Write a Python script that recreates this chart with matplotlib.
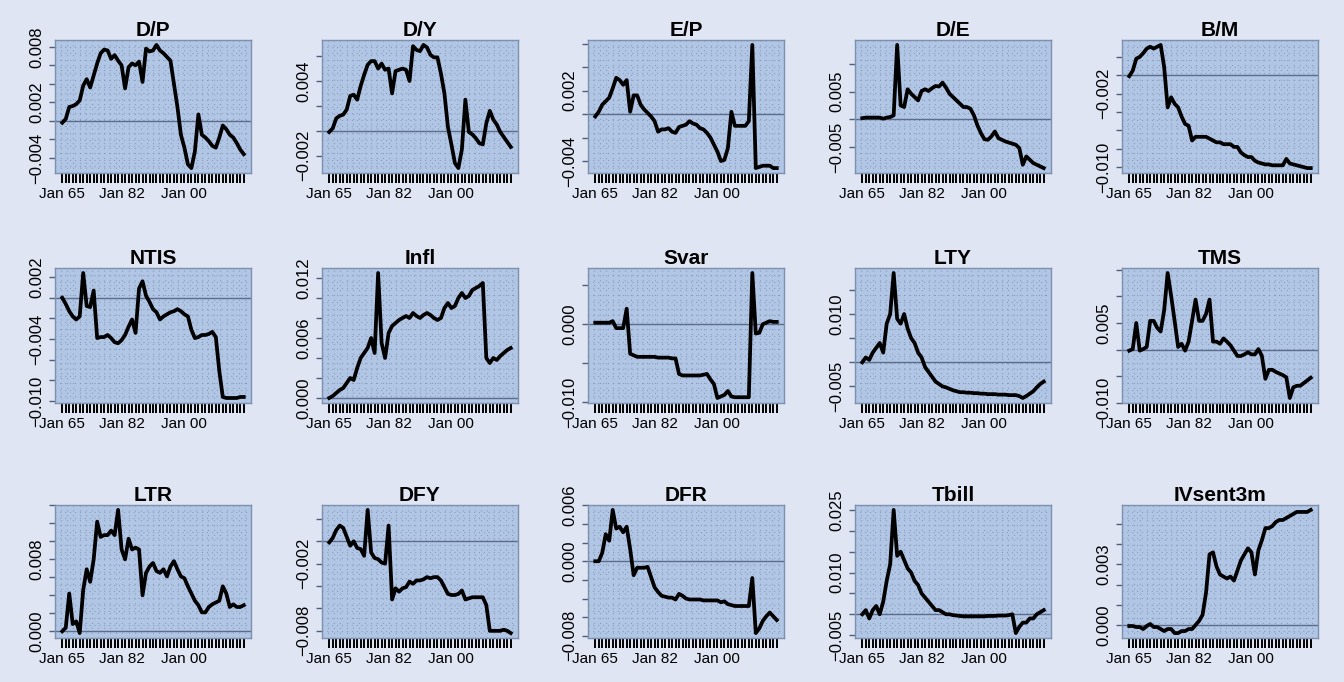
import numpy as np
import matplotlib.pyplot as plt

plt.rcParams['font.family'] = ['Liberation Sans', 'DejaVu Sans']

# yearly observations, Jan 1965 .. Jan 2017
years = np.arange(1965, 2018)

dp = [-0.0002, 0.0002, 0.0015, 0.0016, 0.0018, 0.0022, 0.0038, 0.0045, 0.0036, 0.0049,
      0.0062, 0.0073, 0.0077, 0.0076, 0.0067, 0.0071, 0.0065, 0.0060, 0.0035, 0.0058,
      0.0062, 0.0060, 0.0064, 0.0042, 0.0078, 0.0075, 0.0076, 0.0082, 0.0076, 0.0073,
      0.0069, 0.0065, 0.0040, 0.0015, -0.0015, -0.0029, -0.0047, -0.0051, -0.0033, 0.0007,
      -0.0015, -0.0018, -0.0022, -0.0027, -0.0029, -0.0018, -0.0005, -0.0009, -0.0015, -0.0018,
      -0.0024, -0.0031, -0.0036]

dy = [-0.0001, 0.0002, 0.0010, 0.0012, 0.0013, 0.0017, 0.0028, 0.0029, 0.0025, 0.0036,
      0.0045, 0.0053, 0.0056, 0.0056, 0.0050, 0.0054, 0.0049, 0.0050, 0.0030, 0.0048,
      0.0049, 0.0050, 0.0049, 0.0040, 0.0068, 0.0065, 0.0064, 0.0069, 0.0067, 0.0061,
      0.0059, 0.0059, 0.0046, 0.0030, 0.0003, -0.0011, -0.0026, -0.0030, -0.0015, 0.0025,
      -0.0001, -0.0003, -0.0006, -0.0010, -0.0011, 0.0006, 0.0016, 0.0009, 0.0005, -0.0001,
      -0.0005, -0.0009, -0.0013]

ep = [-0.0002, 0.0002, 0.0008, 0.0011, 0.0014, 0.0022, 0.0031, 0.0029, 0.0025, 0.0029,
      0.0002, 0.0016, 0.0016, 0.0008, 0.0004, 0.0001, -0.0002, -0.0006, -0.0015, -0.0013,
      -0.0013, -0.0012, -0.0015, -0.0016, -0.0011, -0.0010, -0.0009, -0.0006, -0.0008, -0.0009,
      -0.0012, -0.0013, -0.0016, -0.0020, -0.0026, -0.0032, -0.0040, -0.0039, -0.0029, 0.0002,
      -0.0010, -0.0010, -0.0010, -0.0010, -0.0006, 0.0059, -0.0046, -0.0045, -0.0044, -0.0044,
      -0.0044, -0.0046, -0.0046]

de = [0.0002, 0.0003, 0.0003, 0.0003, 0.0003, 0.0003, 0.0001, 0.0003, 0.0004, 0.0007,
      0.0134, 0.0025, 0.0022, 0.0054, 0.0046, 0.0040, 0.0034, 0.0051, 0.0054, 0.0051,
      0.0056, 0.0060, 0.0059, 0.0066, 0.0057, 0.0046, 0.0040, 0.0034, 0.0028, 0.0022,
      0.0022, 0.0019, 0.0007, -0.0011, -0.0025, -0.0036, -0.0037, -0.0031, -0.0022, -0.0034,
      -0.0037, -0.0040, -0.0042, -0.0044, -0.0046, -0.0052, -0.0082, -0.0067, -0.0073, -0.0079,
      -0.0082, -0.0085, -0.0088]

bm = [-0.0001, 0.0005, 0.0018, 0.0020, 0.0024, 0.0029, 0.0031, 0.0029, 0.0031, 0.0033,
      0.0009, -0.0035, -0.0024, -0.0031, -0.0035, -0.0045, -0.0053, -0.0055, -0.0071, -0.0067,
      -0.0067, -0.0067, -0.0067, -0.0069, -0.0071, -0.0073, -0.0073, -0.0075, -0.0075, -0.0075,
      -0.0078, -0.0078, -0.0084, -0.0087, -0.0089, -0.0089, -0.0093, -0.0095, -0.0096, -0.0097,
      -0.0097, -0.0098, -0.0098, -0.0098, -0.0098, -0.0091, -0.0096, -0.0097, -0.0098, -0.0099,
      -0.0100, -0.0101, -0.0101]

ntis = [0.0000, -0.0006, -0.0013, -0.0018, -0.0021, -0.0018, 0.0024, -0.0008, -0.0009, 0.0007,
        -0.0039, -0.0038, -0.0038, -0.0036, -0.0039, -0.0043, -0.0044, -0.0041, -0.0036, -0.0028,
        -0.0021, -0.0034, 0.0009, 0.0016, 0.0002, -0.0004, -0.0011, -0.0014, -0.0021, -0.0018,
        -0.0016, -0.0014, -0.0013, -0.0011, -0.0013, -0.0016, -0.0018, -0.0031, -0.0039, -0.0038,
        -0.0036, -0.0036, -0.0035, -0.0033, -0.0038, -0.0071, -0.0096, -0.0097, -0.0097, -0.0097,
        -0.0097, -0.0096, -0.0096]

infl = [0.0000, 0.0002, 0.0005, 0.0008, 0.0010, 0.0015, 0.0020, 0.0018, 0.0030, 0.0040,
        0.0045, 0.0050, 0.0060, 0.0045, 0.0125, 0.0055, 0.0040, 0.0065, 0.0072, 0.0075,
        0.0078, 0.0080, 0.0082, 0.0080, 0.0085, 0.0082, 0.0080, 0.0083, 0.0085, 0.0083,
        0.0080, 0.0078, 0.0080, 0.0090, 0.0095, 0.0090, 0.0092, 0.0100, 0.0105, 0.0100,
        0.0102, 0.0108, 0.0110, 0.0112, 0.0115, 0.0040, 0.0035, 0.0040, 0.0038, 0.0042,
        0.0045, 0.0048, 0.0050]

svar = [0.0002, 0.0002, 0.0002, 0.0002, 0.0002, 0.0004, -0.0005, -0.0005, -0.0005, 0.0020,
        -0.0038, -0.0040, -0.0042, -0.0042, -0.0042, -0.0042, -0.0042, -0.0042, -0.0043, -0.0043,
        -0.0043, -0.0043, -0.0044, -0.0044, -0.0064, -0.0066, -0.0066, -0.0066, -0.0066, -0.0066,
        -0.0066, -0.0065, -0.0064, -0.0071, -0.0077, -0.0095, -0.0093, -0.0091, -0.0086, -0.0093,
        -0.0094, -0.0094, -0.0094, -0.0094, -0.0094, 0.0066, -0.0012, -0.0011, 0.0000, 0.0002,
        0.0004, 0.0003, 0.0003]

lty = [0.0000, 0.0010, 0.0005, 0.0020, 0.0030, 0.0040, 0.0020, 0.0080, 0.0100, 0.0185,
       0.0090, 0.0080, 0.0100, 0.0070, 0.0050, 0.0040, 0.0020, 0.0010, -0.0010, -0.0020,
       -0.0030, -0.0040, -0.0045, -0.0050, -0.0052, -0.0055, -0.0058, -0.0060, -0.0062, -0.0062,
       -0.0063, -0.0063, -0.0064, -0.0064, -0.0065, -0.0065, -0.0066, -0.0066, -0.0066, -0.0067,
       -0.0067, -0.0067, -0.0068, -0.0068, -0.0068, -0.0070, -0.0074, -0.0070, -0.0065, -0.0060,
       -0.0052, -0.0045, -0.0040]

tms = [-0.0002, 0.0001, 0.0050, -0.0002, 0.0001, 0.0005, 0.0054, 0.0054, 0.0041, 0.0034,
       0.0074, 0.0144, 0.0101, 0.0054, 0.0005, 0.0011, -0.0002, 0.0015, 0.0054, 0.0094,
       0.0054, 0.0054, 0.0067, 0.0094, 0.0015, 0.0015, 0.0011, 0.0021, 0.0015, 0.0008,
       -0.0002, -0.0012, -0.0012, -0.0009, -0.0005, -0.0009, -0.0009, 0.0001, -0.0012, -0.0055,
       -0.0038, -0.0038, -0.0042, -0.0045, -0.0048, -0.0052, -0.0091, -0.0071, -0.0068, -0.0068,
       -0.0063, -0.0058, -0.0053]

ltr = [0.0000, 0.0004, 0.0042, 0.0008, 0.0011, -0.0002, 0.0046, 0.0069, 0.0055, 0.0080,
       0.0122, 0.0105, 0.0107, 0.0107, 0.0112, 0.0107, 0.0135, 0.0091, 0.0080, 0.0103,
       0.0091, 0.0093, 0.0091, 0.0040, 0.0065, 0.0072, 0.0076, 0.0067, 0.0065, 0.0069,
       0.0061, 0.0072, 0.0078, 0.0069, 0.0061, 0.0059, 0.0050, 0.0042, 0.0034, 0.0029,
       0.0021, 0.0021, 0.0027, 0.0030, 0.0032, 0.0034, 0.0050, 0.0042, 0.0027, 0.0030,
       0.0027, 0.0027, 0.0029]

dfy = [-0.0001, 0.0003, 0.0010, 0.0014, 0.0012, 0.0004, -0.0004, 0.0000, -0.0006, -0.0007,
       -0.0013, 0.0028, -0.0010, -0.0015, -0.0016, -0.0019, -0.0020, 0.0014, -0.0052, -0.0042,
       -0.0045, -0.0042, -0.0041, -0.0036, -0.0038, -0.0035, -0.0035, -0.0034, -0.0032, -0.0033,
       -0.0032, -0.0032, -0.0035, -0.0041, -0.0047, -0.0048, -0.0048, -0.0047, -0.0044, -0.0052,
       -0.0051, -0.0050, -0.0050, -0.0050, -0.0050, -0.0057, -0.0080, -0.0080, -0.0080, -0.0080,
       -0.0079, -0.0080, -0.0082]

dfr = [0.0000, 0.0000, 0.0009, 0.0029, 0.0022, 0.0055, 0.0035, 0.0037, 0.0031, 0.0037,
       0.0013, -0.0015, -0.0007, -0.0007, -0.0007, -0.0006, -0.0017, -0.0028, -0.0033, -0.0037,
       -0.0038, -0.0039, -0.0039, -0.0041, -0.0035, -0.0037, -0.0040, -0.0041, -0.0041, -0.0041,
       -0.0041, -0.0042, -0.0042, -0.0042, -0.0042, -0.0042, -0.0044, -0.0043, -0.0046, -0.0047,
       -0.0048, -0.0048, -0.0048, -0.0048, -0.0048, -0.0018, -0.0077, -0.0072, -0.0064, -0.0059,
       -0.0055, -0.0059, -0.0063]

tbill = [0.0000, 0.0010, -0.0010, 0.0010, 0.0020, 0.0000, 0.0030, 0.0080, 0.0120, 0.0250,
         0.0140, 0.0150, 0.0130, 0.0110, 0.0100, 0.0080, 0.0070, 0.0050, 0.0040, 0.0030,
         0.0020, 0.0010, 0.0010, 0.0005, 0.0000, 0.0000, -0.0002, -0.0003, -0.0004, -0.0005,
         -0.0005, -0.0005, -0.0005, -0.0005, -0.0005, -0.0005, -0.0004, -0.0004, -0.0004, -0.0003,
         -0.0003, -0.0003, -0.0002, 0.0000, -0.0045, -0.0030, -0.0020, -0.0020, -0.0010, -0.0010,
         0.0000, 0.0005, 0.0010]

ivsent = [-0.00005, -0.00005, -0.0001, -0.0001, -0.0002, -0.00005, 0.00005, -0.0001, -0.0001, -0.0002,
          -0.0003, -0.0002, -0.0002, -0.0004, -0.0004, -0.0003, -0.0003, -0.0002, -0.0002, 0.0000,
          0.0002, 0.0005, 0.0016, 0.0035, 0.0036, 0.0029, 0.0025, 0.0024, 0.0023, 0.0024,
          0.0022, 0.0027, 0.0032, 0.0035, 0.0038, 0.0036, 0.0025, 0.0037, 0.0042, 0.0048,
          0.0048, 0.0049, 0.0051, 0.0052, 0.0052, 0.0053, 0.0054, 0.0055, 0.0056, 0.0056,
          0.0056, 0.0056, 0.0057]

# (title, series, (first tick, last tick, step), ticks that carry a label)
panels = [
    ('D/P', dp, (-0.004, 0.008, 0.002), [-0.004, 0.002, 0.008]),
    ('D/Y', dy, (-0.002, 0.006, 0.002), [-0.002, 0.004]),
    ('E/P', ep, (-0.004, 0.006, 0.002), [-0.004, 0.002]),
    ('D/E', de, (-0.005, 0.010, 0.005), [-0.005, 0.005]),
    ('B/M', bm, (-0.010, 0.002, 0.002), [-0.010, -0.002]),
    ('NTIS', ntis, (-0.010, 0.002, 0.002), [-0.010, -0.004, 0.002]),
    ('Infl', infl, (0.000, 0.012, 0.002), [0.000, 0.006, 0.012]),
    ('Svar', svar, (-0.010, 0.005, 0.005), [-0.010, 0.000]),
    ('LTY', lty, (-0.005, 0.015, 0.005), [-0.005, 0.010]),
    ('TMS', tms, (-0.010, 0.015, 0.005), [-0.010, 0.005]),
    ('LTR', ltr, (0.000, 0.014, 0.002), [0.000, 0.008]),
    ('DFY', dfy, (-0.008, 0.002, 0.002), [-0.008, -0.002]),
    ('DFR', dfr, (-0.008, 0.006, 0.002), [-0.008, 0.000, 0.006]),
    ('Tbill', tbill, (-0.005, 0.025, 0.005), [-0.005, 0.010, 0.025]),
    ('IVsent3m', ivsent, (0.000, 0.005, 0.001), [0.000, 0.003]),
]

W, H = 1344, 682
lefts = [55, 322, 588, 855, 1122]
tops = [40, 268, 505]
heights = [133, 135, 133]
width = 196

fig = plt.figure(figsize=(W / 100, H / 100), dpi=100)
fig.patch.set_facecolor('#dfe5f3')

face = '#b1c5e5'
frame = '#7d90ad'
dotcol = '#8293b3'


def fmt(v):
    return ('%.3f' % v).replace('-', '\u2212')


for i, (name, vals, (lo, hi, step), labelled) in enumerate(panels):
    r, c = divmod(i, 5)
    l, t, h = lefts[c], tops[r], heights[r]
    ax = fig.add_axes([l / W, 1 - (t + h) / H, width / W, h / H])
    ax.set_facecolor(face)
    for s in ax.spines.values():
        s.set_color(frame)
        s.set_linewidth(1.0)

    # dotted background lattice
    for gx in np.linspace(0, 1, 33)[1:-1]:
        ax.plot([gx, gx], [0, 1], transform=ax.transAxes, color=dotcol,
                lw=0.8, ls=(0, (0.8, 3.6)), zorder=0.5)
    for gy in np.linspace(0, 1, 21)[1:-1]:
        ax.plot([0, 1], [gy, gy], transform=ax.transAxes, color=dotcol,
                lw=0.8, ls=(0, (0.8, 3.6)), zorder=0.5)

    ax.axhline(0, color='#5b6d8c', lw=1.0, zorder=1.5)
    ax.plot(years, vals, color='black', lw=2.7, zorder=2)

    span = years[-1] - years[0]
    ax.set_xlim(years[0] - 0.04 * span, years[-1] + 0.04 * span)
    vmin, vmax = min(vals), max(vals)
    pad = 0.04 * (vmax - vmin)
    ax.set_ylim(vmin - pad, vmax + pad)

    ax.set_xticks([1965, 1982, 2000])
    ax.set_xticklabels(['Jan 65', 'Jan 82', 'Jan 00'])
    ax.set_xticks(years, minor=True)
    ax.tick_params(axis='x', which='both', length=7, width=1.4, color='black',
                   direction='out', labelsize=11, pad=3)

    ticks = np.round(np.arange(lo, hi + step / 2, step), 4)
    lab = [fmt(v) if any(abs(v - q) < 1e-9 for q in labelled) else '' for v in ticks]
    ax.set_yticks(ticks)
    ax.set_yticklabels(lab)
    ax.tick_params(axis='y', length=4.5, width=1.0, color='#4f5f7a',
                   direction='out', labelsize=12, pad=3.5, labelrotation=90)
    for tl in ax.get_yticklabels():
        tl.set_va('center')

    ax.set_title(name, fontsize=15, fontweight='bold', pad=3)

fig.savefig('out.png', dpi=100, facecolor=fig.get_facecolor())
